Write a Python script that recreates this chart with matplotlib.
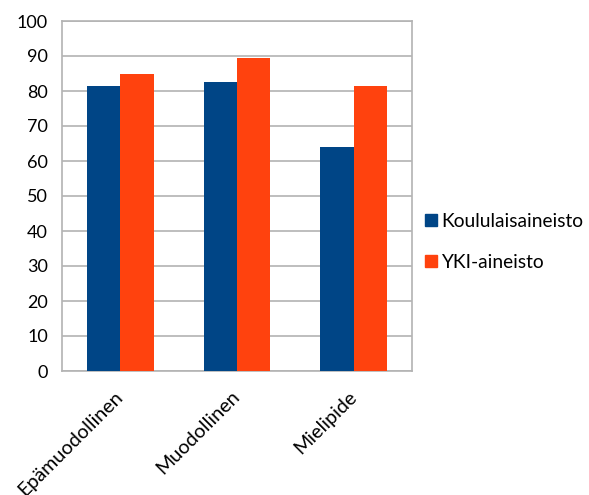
import matplotlib
matplotlib.use("Agg")
import matplotlib.pyplot as plt
import matplotlib.transforms as mtransforms
import numpy as np
from matplotlib.patches import Patch

categories = ["Epämuodollinen", "Muodollinen", "Mielipide"]
series_names = ["Koululaisaineisto", "YKI-aineisto"]
koulu = [81.5, 82.5, 64.0]
yki = [85.0, 89.5, 81.5]
colors = ["#004586", "#ff420e"]

plt.rcParams['font.family'] = ['Lato', 'DejaVu Sans']
fig = plt.figure(figsize=(5.89, 4.95), dpi=100)
ax = fig.add_axes([62/589, 1-371/495, 350/589, 350/495])

x = np.arange(len(categories))
w = 0.2857
ax.bar(x - w/2, koulu, w, color=colors[0], zorder=3)
ax.bar(x + w/2, yki, w, color=colors[1], zorder=3)

ax.set_xlim(-0.5, 2.5)
ax.set_ylim(0, 100)
ax.set_yticks(range(0, 101, 10))
ax.yaxis.grid(True, color="#b3b3b3", linewidth=1.2, zorder=0)
for s in ax.spines.values():
    s.set_color("#b3b3b3")
    s.set_linewidth(1.2)
ax.tick_params(axis='both', length=0, colors="#000000")
ax.tick_params(axis='y', pad=10, labelsize=13)
ax.set_xticks(x)
ax.set_xticklabels(categories, rotation=45, ha='right', va='top',
                   rotation_mode='anchor', fontsize=14.2)
ax.tick_params(axis='x', pad=12)
offset = mtransforms.ScaledTranslation(-6/100, 0, fig.dpi_scale_trans)
for lbl in ax.get_xticklabels():
    lbl.set_transform(lbl.get_transform() + offset)

handles = [Patch(color=c, label=n) for c, n in zip(colors, series_names)]
fig.legend(handles=handles, loc='upper left', bbox_to_anchor=(425/589, 1-213/495),
           frameon=False, fontsize=13.8, handlelength=0.6, handleheight=0.6,
           handletextpad=0.25, labelspacing=1.25, borderpad=0, borderaxespad=0)

fig.savefig("out.png", dpi=100)
